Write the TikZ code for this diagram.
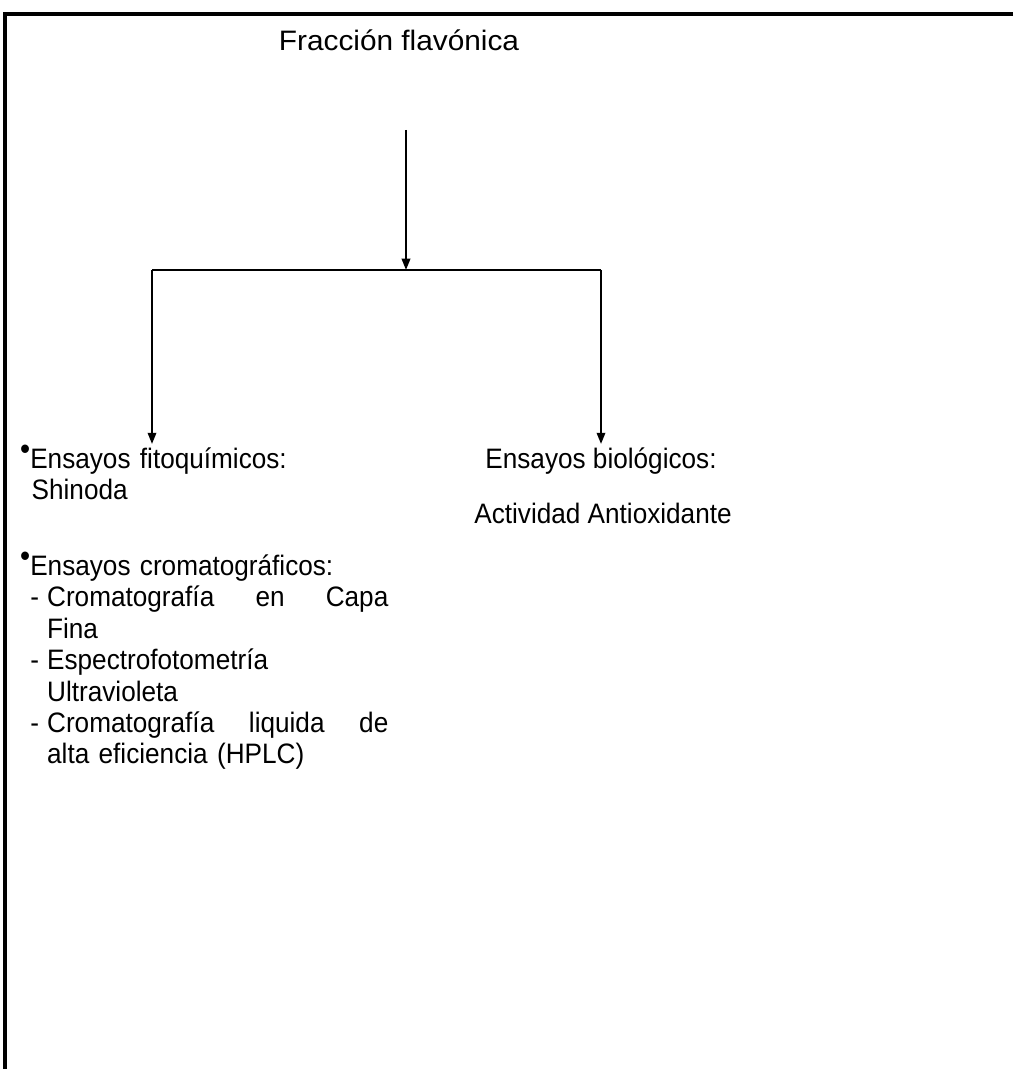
\documentclass[tikz,border=0pt]{standalone}
\usepackage{fontspec}
\setmainfont{Liberation Sans}[FakeStretch=0.93]
\newfontfamily\titulofont{Liberation Sans}[FakeStretch=1.06]
\usetikzlibrary{arrows.meta}
\setlength{\parindent}{0pt}
\setlength{\parskip}{0pt}
\newcommand{\guion}{\makebox[12pt][l]{-}}
\newcommand{\punto}{\llap{\raisebox{.3em}{\fontsize{22}{22}\selectfont •}}}
\begin{document}
\begin{tikzpicture}[x=0.025cm,y=-0.025cm,
  conn/.style={line width=1.5pt,-{Triangle[width=6pt,length=8pt]}},
  texto/.style={inner sep=0pt,font=\fontsize{20}{22.4}\selectfont}]
\useasboundingbox (0,0) rectangle (1013,1069);
% marco
\draw[line width=2.2pt] (1013,14) -- (5,14) -- (5,1069);
\node[inner sep=0pt,font=\titulofont\fontsize{20}{22}\selectfont,anchor=base] (titulo) at (399,51) {Fracción flavónica};
\coordinate (arriba) at (406,130);
\coordinate (cruce) at (406,270);
\draw[conn] (arriba) -- (cruce);
% ramas
\foreach \x/\nom in {152/izq,601/der}{
\coordinate (\nom) at (\x,270);
\coordinate (\nom fin) at (\x,444);
\draw[conn] (\nom) -- (\nom fin);
}
\draw[line width=1.5pt] (izq) -- (der);
% izquierda
\node[texto,anchor=base west,align=left,text width=8.95cm] (fito) at (30,468)
  {\punto Ensayos fitoquímicos:\\\hspace*{1pt}Shinoda};
\node[texto,anchor=base west,align=left,text width=8.95cm] (croma) at (30,575)
  {\punto Ensayos cromatográficos:\\
  \guion Cromatografía\hfill en\hfill Capa\\
  \hspace*{12pt}Fina\\
  \guion Espectrofotometría\\
  \hspace*{12pt}Ultravioleta\\
  \guion Cromatografía\hfill liquida\hfill de\\
  \hspace*{12pt}alta eficiencia (HPLC)};
% derecha
\node[texto,anchor=base] (bio) at (601,468) {Ensayos biológicos:};
\node[texto,anchor=base] (activ) at (603,523) {Actividad Antioxidante};
\end{tikzpicture}
\end{document}
